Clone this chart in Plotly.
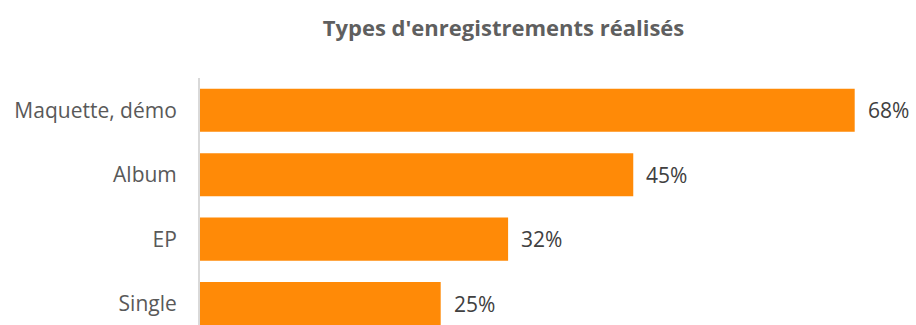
import plotly.graph_objects as go

# Recording types and share of respondents (%)
categories = ["Maquette, démo", "Album", "EP", "Single"]
values = [68, 45, 32, 25]
value_labels = ["68%", "45%", "32%", "25%"]

BAR_COLOR = "#FF8A07"
TEXT_COLOR = "#595959"
FONT = "Open Sans"

fig = go.Figure()
fig.add_trace(go.Bar(
    y=categories,
    x=values,
    orientation="h",
    marker=dict(color=BAR_COLOR, line=dict(width=0)),
    hoverinfo="skip",
))

# value labels to the right of each bar
for cat, val, lab in zip(categories, values, value_labels):
    fig.add_annotation(
        x=val, y=cat, text=lab, showarrow=False,
        xanchor="left", yanchor="middle", xshift=11,
        font=dict(family=FONT, size=21, color="#404040"),
    )

fig.update_layout(
    width=916, height=325,
    margin=dict(l=200, r=16, t=78, b=0),
    paper_bgcolor="white", plot_bgcolor="white",
    bargap=0.33,
    showlegend=False,
    title=dict(
        text="<b>Types d'enregistrements réalisés</b>",
        x=503.5 / 916, xref="container", xanchor="center",
        y=1 - 28 / 325, yref="container", yanchor="middle",
        font=dict(family=FONT, size=22, color="#5F5F5F"),
    ),
)
fig.update_xaxes(range=[0, 700 / 9.628], visible=False)
fig.update_yaxes(
    categoryorder="array", categoryarray=categories[::-1],
    range=[-0.33, 3.5],
    showline=True, linecolor="#D9D9D9", linewidth=2,
    showgrid=False, zeroline=False, ticks="",
    ticklabelstandoff=17,
    tickfont=dict(family=FONT, size=21, color=TEXT_COLOR),
)

fig.write_html("out.html")
